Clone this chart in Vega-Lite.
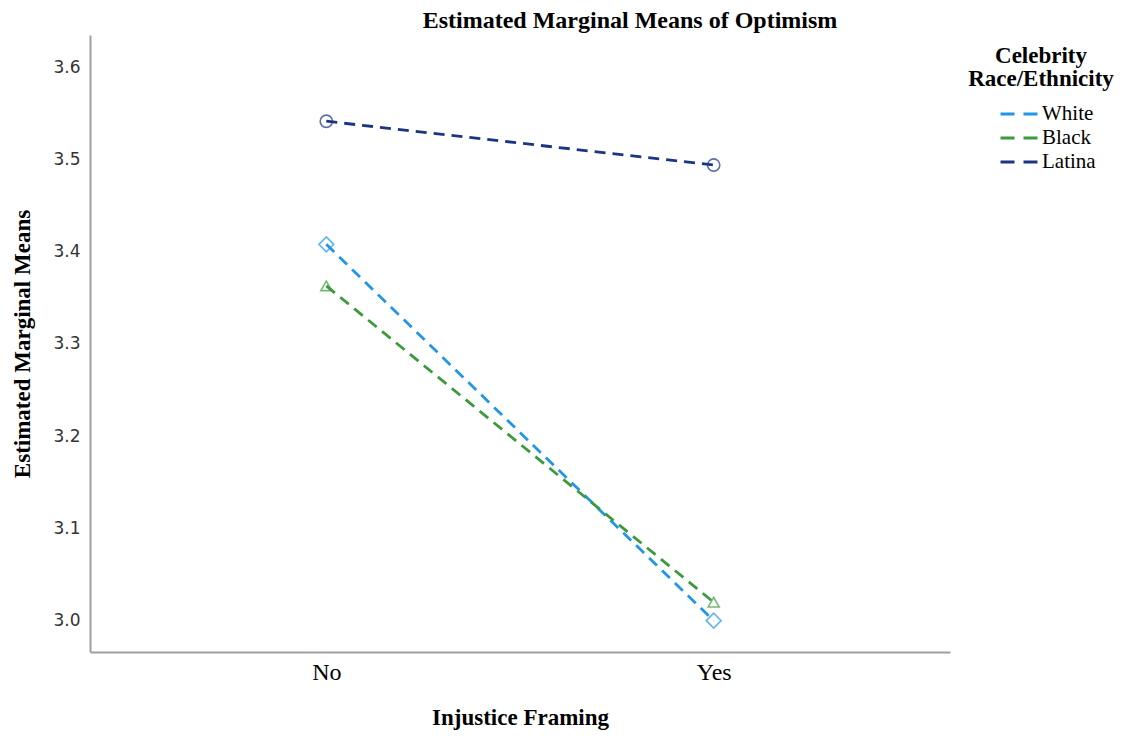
{
  "$schema": "https://vega.github.io/schema/vega-lite/v6.json",
  "width": 860,
  "height": 617,
  "autosize": {"type": "none"},
  "padding": {"left": 90, "top": 35, "right": 180, "bottom": 86},
  "background": "white",
  "title": {
    "text": "Estimated Marginal Means of Optimism",
    "font": "Liberation Serif",
    "fontSize": 24,
    "fontWeight": "bold",
    "color": "#000000",
    "anchor": "middle",
    "frame": "group",
    "dx": 110,
    "offset": 2
  },
  "config": {
    "view": {"stroke": null},
    "axis": {"grid": false, "ticks": false, "domainColor": "#a0a0a0", "domainWidth": 2}
  },
  "data": {
    "values": [
      {"framing": "No", "group": "White", "mean": 3.408},
      {"framing": "Yes", "group": "White", "mean": 3.000},
      {"framing": "No", "group": "Black", "mean": 3.363},
      {"framing": "Yes", "group": "Black", "mean": 3.020},
      {"framing": "No", "group": "Latina", "mean": 3.5415},
      {"framing": "Yes", "group": "Latina", "mean": 3.494}
    ]
  },
  "encoding": {
    "x": {
      "field": "framing",
      "type": "nominal",
      "scale": {"type": "point", "padding": 0.61},
      "axis": {
        "title": "Injustice Framing",
        "labelAngle": 0,
        "labelFont": "Liberation Serif",
        "labelFontSize": 24,
        "labelColor": "#000000",
        "labelPadding": 8,
        "titleFont": "Liberation Serif",
        "titleFontSize": 23,
        "titleFontWeight": "bold",
        "titleColor": "#000000",
        "titlePadding": 22
      }
    },
    "y": {
      "field": "mean",
      "type": "quantitative",
      "scale": {"domain": [2.966, 3.635], "nice": false, "zero": false},
      "axis": {
        "title": "Estimated Marginal Means",
        "values": [3.0, 3.1, 3.2, 3.3, 3.4, 3.5, 3.6],
        "format": ".1f",
        "labelFont": "DejaVu Sans",
        "labelFontSize": 17,
        "labelColor": "#333333",
        "labelPadding": 10,
        "titleFont": "Liberation Serif",
        "titleFontSize": 23,
        "titleFontWeight": "bold",
        "titleColor": "#000000",
        "titlePadding": 18
      }
    },
    "color": {
      "field": "group",
      "type": "nominal",
      "scale": {"domain": ["White", "Black", "Latina"], "range": ["#2196e8", "#3b9a3b", "#1c3583"]}
    }
  },
  "layer": [
    {
      "mark": {"type": "line", "strokeDash": [11, 7], "strokeWidth": 2.8},
      "encoding": {
        "color": {
          "field": "group",
          "type": "nominal",
          "sort": ["White", "Black", "Latina"],
          "legend": {
            "title": ["Celebrity", "Race/Ethnicity"],
            "orient": "none",
            "legendX": 878,
            "legendY": 10,
            "titleFont": "Liberation Serif",
            "titleFontSize": 23,
            "titleFontWeight": "bold",
            "titleColor": "#000000",
            "titleAnchor": "middle",
            "titleAlign": "center",
            "titleLineHeight": 23,
            "titlePadding": 12,
            "labelFont": "Liberation Serif",
            "labelFontSize": 21,
            "labelColor": "#000000",
            "labelOffset": 12,
            "symbolType": "M-2,0H2",
            "symbolDash": [14, 9],
            "symbolStrokeWidth": 3,
            "symbolSize": 342,
            "symbolOffset": 21,
            "rowPadding": 3
          }
        }
      }
    },
    {
      "transform": [{"filter": "datum.group === 'White'"}],
      "mark": {"type": "point", "shape": "diamond", "filled": false, "size": 220, "strokeWidth": 1.6},
      "encoding": {"color": {"field": "group", "type": "nominal", "legend": null}}
    },
    {
      "transform": [{"filter": "datum.group === 'Black'"}],
      "mark": {"type": "point", "shape": "triangle-up", "filled": false, "size": 120, "strokeWidth": 1.6},
      "encoding": {"color": {"field": "group", "type": "nominal", "legend": null}}
    },
    {
      "transform": [{"filter": "datum.group === 'Latina'"}],
      "mark": {"type": "point", "shape": "circle", "filled": false, "size": 150, "strokeWidth": 1.6},
      "encoding": {"color": {"field": "group", "type": "nominal", "legend": null}}
    }
  ]
}
